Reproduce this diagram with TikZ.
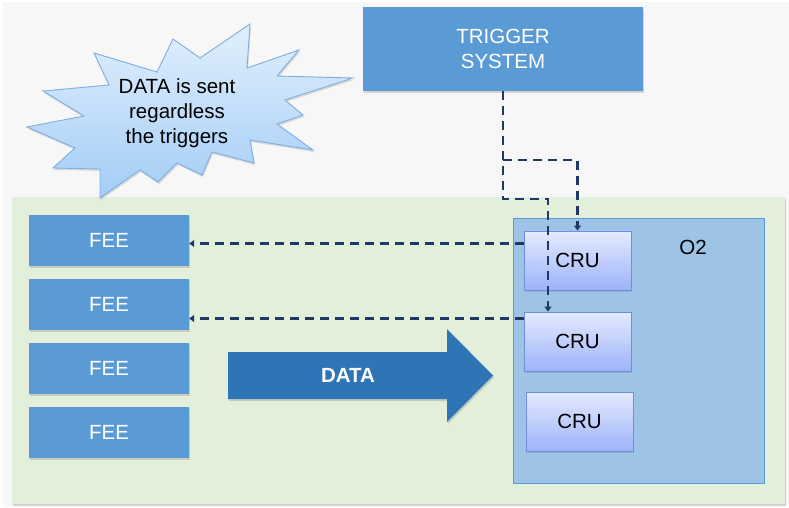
\documentclass[tikz,border=0pt]{standalone}
\usepackage{fontspec}
\setmainfont{Liberation Sans}
\usetikzlibrary{arrows.meta,shadows,calc}
\definecolor{bgGrey}{HTML}{F7F7F7}
\definecolor{panelGreen}{HTML}{E2EFDA}
\definecolor{boxBlue}{HTML}{5B9BD5}
\definecolor{arrowBlue}{HTML}{2E75B6}
\definecolor{otwoBlue}{HTML}{9DC3E6}
\definecolor{cruTop}{HTML}{E4EAFF}
\definecolor{cruBot}{HTML}{9DB3FA}
\definecolor{cruLine}{HTML}{6F8FDC}
\definecolor{burstTop}{HTML}{E2EFFC}
\definecolor{burstBot}{HTML}{A3CDF7}
\definecolor{burstLine}{HTML}{7BAFE2}
\definecolor{navy}{HTML}{203864}
\tikzset{
  txt/.style={font=\fontsize{20.5}{25}\selectfont},
  shad/.style={drop shadow={shadow xshift=1pt,shadow yshift=-2pt,opacity=0.3}},
  feebox/.style={shad,fill=boxBlue,draw=none,minimum width=160pt,minimum height=51pt,inner sep=0pt,txt,text=white},
  crubox/.style={shad,top color=cruTop,bottom color=cruBot,draw=cruLine,line width=1pt,minimum width=107pt,minimum height=59pt,inner sep=0pt,txt,text=black},
  trig/.style={draw=navy,line width=2.6pt,dash pattern=on 9pt off 6pt},
  tip/.style={-{Triangle[length=5pt,width=7pt]}}
}
\begin{document}
\begin{tikzpicture}[x=1pt,y=-1pt]
\useasboundingbox (0,0) rectangle (789,507);
\fill[white] (0,0) rectangle (789,507);
\fill[bgGrey] (3,2) rectangle (789,507);
% green panel
\fill[panelGreen,shad] (12,197) rectangle (785,504);
% O2 box
\node[draw=boxBlue,line width=0.8pt,fill=otwoBlue,minimum width=251pt,minimum height=265pt,inner sep=0pt] (o2) at (638.5,350.5) {};
\node[txt,text=black] (o2lbl) at (693,247) {O2};
% trigger system
\node[shad,fill=boxBlue,minimum width=280pt,minimum height=84pt,inner sep=0pt,txt,text=white,align=center] (trig) at (503,49) {TRIGGER\\SYSTEM};
% FEE boxes
\node[feebox] (fee1) at (109,240) {FEE};
\node[feebox] (fee2) at (109,304.5) {FEE};
\node[feebox] (fee3) at (109,368.5) {FEE};
\node[feebox] (fee4) at (109,432.5) {FEE};
% CRU boxes
\node[crubox] (cru1) at (577.5,260.5) {CRU};
\node[crubox] (cru2) at (577.5,341.5) {CRU};
\node[crubox] (cru3) at (579.5,421.5) {CRU};
% DATA arrow
\fill[arrowBlue,shad] (228,352) -- (447,352) -- (447,329) -- (493,375.5) -- (447,422) -- (447,399) -- (228,399) -- cycle;
\node[txt,text=white,font=\fontsize{20.5}{25}\selectfont\bfseries] (datalbl) at (348,375.5) {DATA};
% starburst
\shade[top color=burstTop,bottom color=burstBot,draw=burstLine,line width=0.9pt,drop shadow={shadow xshift=1pt,shadow yshift=-2pt,opacity=0.25}]
 (250,24) -- (247,68) -- (299,50) -- (277,76) -- (353,78) -- (285,100) -- (303,115) -- (277,124) -- (313,150) -- (250,140) -- (254,163) -- (212,152) -- (202,175) -- (177,163) -- (158,182) -- (140,170) -- (100,198) -- (100,169) -- (53,168) -- (75,148) -- (27,127) -- (84,116) -- (43,91) -- (109,85) -- (94,53) -- (157,72) -- (173,39) -- (200,58) -- cycle;
\node[txt,text=black,align=center] (burst) at (177,113) {DATA is sent\\regardless\\the triggers};
% trigger connections
\coordinate (j1) at (trig.south |- 0,199);
\coordinate (j2) at (trig.south |- 0,160);
\coordinate (c2top) at ($(cru2.north)+(-29.5,0)$);
\draw[trig,tip] (trig.south) -- (j1) -| (c2top);
\draw[trig,tip] (j2) -| (cru1.north);
\coordinate (a1) at ($(cru1.north west)+(0,13)$);
\coordinate (a2) at ($(cru2.north west)+(0,7)$);
\draw[trig,tip] (a1) -- (a1 -| fee1.east);
\draw[trig,tip] (a2) -- (a2 -| fee2.east);
\end{tikzpicture}
\end{document}
